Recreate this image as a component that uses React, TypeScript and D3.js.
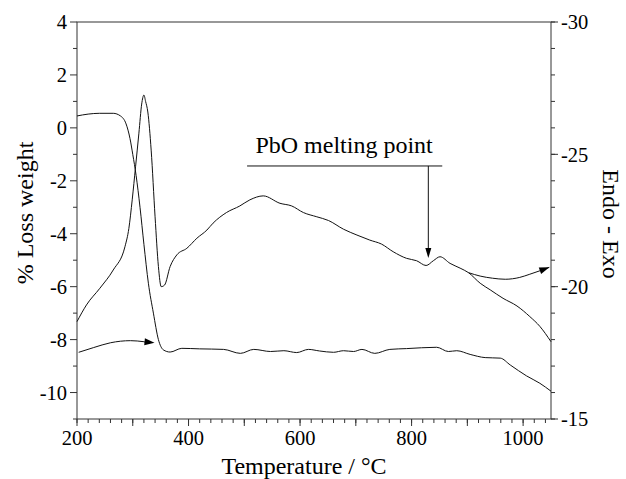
import React from 'react';
import * as d3 from 'd3';

// TG curve (% loss weight, left axis)
const tgTemp = [200, 220, 240, 265, 278, 288, 295, 300, 306, 313, 320, 328, 337, 346, 355, 367, 388, 420, 463, 493, 517, 547, 571, 594, 615, 635, 660, 678, 696, 711, 734, 761, 791, 845, 866, 881, 905, 932, 959, 977, 1006, 1030, 1050];
const tgLoss = [0.45, 0.52, 0.55, 0.55, 0.45, 0.15, -0.4, -1.0, -1.8, -3.0, -4.4, -5.87, -7.0, -8.0, -8.39, -8.47, -8.33, -8.35, -8.37, -8.52, -8.37, -8.45, -8.42, -8.49, -8.37, -8.43, -8.48, -8.42, -8.45, -8.37, -8.52, -8.37, -8.34, -8.29, -8.45, -8.42, -8.56, -8.68, -8.7, -8.96, -9.37, -9.65, -9.95];

// DTA curve (Endo - Exo, right axis)
const dtaTemp = [200, 217, 241, 265, 286, 293, 299, 305, 311, 316, 320, 323, 327, 333, 340, 346, 351, 357, 367, 379, 397, 415, 433, 444, 468, 492, 510, 534, 564, 585, 606, 630, 651, 678, 702, 725, 746, 767, 791, 809, 826, 839, 851, 869, 887, 902, 923, 941, 964, 989, 1012, 1030, 1050];
const dtaSignal = [-18.68, -19.31, -19.94, -20.63, -21.51, -22.2, -23.28, -24.53, -25.8, -26.9, -27.24, -27.0, -26.6, -25.16, -22.64, -20.76, -20.0, -20.06, -20.76, -21.2, -21.45, -21.83, -22.14, -22.4, -22.8, -23.05, -23.28, -23.43, -23.15, -23.05, -22.8, -22.64, -22.5, -22.17, -21.95, -21.76, -21.61, -21.32, -21.07, -20.98, -20.8, -20.98, -21.13, -20.88, -20.7, -20.53, -20.13, -19.88, -19.56, -19.27, -18.87, -18.5, -17.92];

// Arrow annotations
const leftArrowTemp = [203, 230, 260, 296, 320, 339];
const leftArrowLoss = [-8.48, -8.3, -8.12, -8.04, -8.08, -8.12];
const rightArrowTemp = [902, 923, 945, 968, 994, 1012, 1030, 1047];
const rightArrowSignal = [-20.53, -20.4, -20.32, -20.28, -20.35, -20.47, -20.6, -20.73];

const meltLabel = 'PbO melting point';
const meltTemp = 830;
const meltLineStart = 505;
const meltLineEnd = 855;
const meltLineLoss = -1.44;
const meltTipLoss = -4.92;
const meltTextTemp = 679;
const meltTextLoss = -0.95;

const xMajorTicks = [200, 300, 400, 500, 600, 700, 800, 900, 1000];
const xLabelTicks = [200, 400, 600, 800, 1000];
const xMinorTicks = d3.range(200, 1050, 20);
const leftMajorTicks = [-10, -8, -6, -4, -2, 0, 2, 4];
const leftMinorTicks = [-11, -9, -7, -5, -3, -1, 1, 3];
const rightMajorTicks = [-30, -25, -20, -15];
const rightMinorTicks = d3.range(-30, -14, 1);

const xTitle = 'Temperature / °C';
const leftTitle = '% Loss weight';
const rightTitle = 'Endo - Exo';

const L = 77, R = 551, T = 22, B = 419;
const FONT = 'Liberation Serif';

function arrowHead(tx: number, ty: number, fx: number, fy: number, len = 10, half = 3.5) {
  const ang = Math.atan2(ty - fy, tx - fx);
  const bx = tx - len * Math.cos(ang);
  const by = ty - len * Math.sin(ang);
  const px = -Math.sin(ang) * half;
  const py = Math.cos(ang) * half;
  return `${tx},${ty} ${bx + px},${by + py} ${bx - px},${by - py}`;
}

export default function App() {
  const x = d3.scaleLinear().domain([200, 1050]).range([L, R]);
  const yL = d3.scaleLinear().domain([-11, 4]).range([B, T]);
  const yR = d3.scaleLinear().domain([-15, -30]).range([B, T]);

  const tgLine = d3.line<number>().x((d, i) => x(tgTemp[i])).y((d) => yL(d)).curve(d3.curveMonotoneX);
  const dtaLine = d3.line<number>().x((d, i) => x(dtaTemp[i])).y((d) => yR(d)).curve(d3.curveMonotoneX);
  const laLine = d3.line<number>().x((d, i) => x(leftArrowTemp[i])).y((d) => yL(d)).curve(d3.curveMonotoneX);
  const raLine = d3.line<number>().x((d, i) => x(rightArrowTemp[i])).y((d) => yR(d)).curve(d3.curveMonotoneX);

  const la = leftArrowLoss.length - 1;
  const ra = rightArrowSignal.length - 1;

  const axisColor = '#333';
  return (
    <svg width={626} height={479} style={{ position: 'absolute', left: 0, top: 0, display: 'block', background: '#fff' }}>
      {/* frame */}
      <rect x={L} y={T} width={R - L} height={B - T} fill="none" stroke={axisColor} strokeWidth={1} />
      {/* x ticks */}
      {xMinorTicks.map((t) => (
        <line key={'xm' + t} x1={x(t)} x2={x(t)} y1={B} y2={B + 4} stroke={axisColor} />
      ))}
      {xMajorTicks.map((t) => (
        <line key={'xM' + t} x1={x(t)} x2={x(t)} y1={B} y2={B + 7} stroke={axisColor} />
      ))}
      {xLabelTicks.map((t) => (
        <text key={'xl' + t} x={x(t)} y={445} textAnchor="middle" fontFamily={FONT} fontSize={20.5} fill="#000">{t}</text>
      ))}
      {/* left ticks */}
      {leftMinorTicks.map((t) => (
        <line key={'lm' + t} x1={L - 4} x2={L} y1={yL(t)} y2={yL(t)} stroke={axisColor} />
      ))}
      {leftMajorTicks.map((t) => (
        <line key={'lM' + t} x1={L - 7} x2={L} y1={yL(t)} y2={yL(t)} stroke={axisColor} />
      ))}
      {leftMajorTicks.map((t) => (
        <text key={'ll' + t} x={67} y={yL(t)} dy="0.35em" textAnchor="end" fontFamily={FONT} fontSize={20.5} fill="#000">{t < 0 ? '-' + Math.abs(t) : String(t)}</text>
      ))}
      {/* right ticks */}
      {rightMinorTicks.map((t) => (
        <line key={'rm' + t} x1={R} x2={R + 4} y1={yR(t)} y2={yR(t)} stroke={axisColor} />
      ))}
      {rightMajorTicks.map((t) => (
        <line key={'rM' + t} x1={R} x2={R + 7} y1={yR(t)} y2={yR(t)} stroke={axisColor} />
      ))}
      {rightMajorTicks.map((t) => (
        <text key={'rl' + t} x={561} y={yR(t)} dy="0.35em" textAnchor="start" fontFamily={FONT} fontSize={20.5} fill="#000">{'-' + Math.abs(t)}</text>
      ))}
      {/* titles */}
      <text x={304} y={474} textAnchor="middle" fontFamily={FONT} fontSize={24} fill="#000">{xTitle}</text>
      <text transform={`translate(33,213) rotate(-90)`} textAnchor="middle" fontFamily={FONT} fontSize={24} fill="#000">{leftTitle}</text>
      <text transform={`translate(603,224) rotate(90)`} textAnchor="middle" fontFamily={FONT} fontSize={24} fill="#000">{rightTitle}</text>
      {/* curves */}
      <path d={tgLine(tgLoss) || ''} fill="none" stroke="#111" strokeWidth={1} />
      <path d={dtaLine(dtaSignal) || ''} fill="none" stroke="#111" strokeWidth={1} />
      {/* left arrow */}
      <path d={laLine(leftArrowLoss.slice(0, la)) || ''} fill="none" stroke="#111" strokeWidth={1} />
      <path d={`M${x(leftArrowTemp[la - 1])},${yL(leftArrowLoss[la - 1])}L${x(leftArrowTemp[la]) - 8},${yL(leftArrowLoss[la])}`} fill="none" stroke="#111" />
      <polygon points={arrowHead(x(leftArrowTemp[la]), yL(leftArrowLoss[la]), x(leftArrowTemp[la - 1]), yL(leftArrowLoss[la - 1]))} fill="#000" />
      {/* right arrow */}
      <path d={raLine(rightArrowSignal) || ''} fill="none" stroke="#111" strokeWidth={1} />
      <polygon points={arrowHead(x(rightArrowTemp[ra]), yR(rightArrowSignal[ra]), x(rightArrowTemp[ra - 1]), yR(rightArrowSignal[ra - 1]))} fill="#000" />
      {/* melting annotation */}
      <text x={x(meltTextTemp)} y={yL(meltTextLoss)} textAnchor="middle" fontFamily={FONT} fontSize={24} fill="#000">{meltLabel}</text>
      <line x1={x(meltLineStart)} x2={x(meltLineEnd)} y1={yL(meltLineLoss)} y2={yL(meltLineLoss)} stroke="#111" />
      <line x1={x(meltTemp)} x2={x(meltTemp)} y1={yL(meltLineLoss)} y2={yL(meltTipLoss) - 8} stroke="#111" />
      <polygon points={arrowHead(x(meltTemp), yL(meltTipLoss), x(meltTemp), yL(meltLineLoss), 10, 3)} fill="#000" />
    </svg>
  );
}
